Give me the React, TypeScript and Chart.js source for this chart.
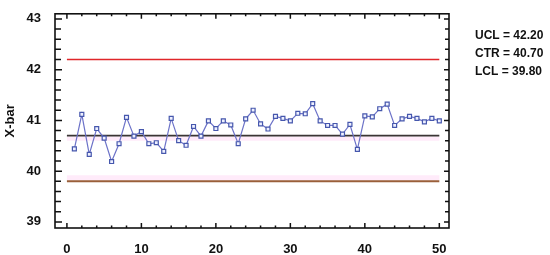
import React, { useEffect, useRef } from "react";
import { Chart, registerables } from "chart.js";

Chart.register(...registerables);

const samples: number[] = [
  1, 2, 3, 4, 5, 6, 7, 8, 9, 10, 11, 12, 13, 14, 15, 16, 17, 18, 19, 20, 21, 22, 23, 24, 25,
  26, 27, 28, 29, 30, 31, 32, 33, 34, 35, 36, 37, 38, 39, 40, 41, 42, 43, 44, 45, 46, 47, 48, 49, 50,
];
const xbar: number[] = [
  40.44, 41.12, 40.33, 40.84, 40.65, 40.19, 40.54, 41.06, 40.69, 40.78,
  40.54, 40.56, 40.39, 41.04, 40.6, 40.51, 40.88, 40.69, 40.99, 40.84,
  40.99, 40.91, 40.54, 41.03, 41.2, 40.93, 40.83, 41.08, 41.04, 40.99,
  41.14, 41.13, 41.33, 40.99, 40.9, 40.9, 40.73, 40.92, 40.43, 41.09,
  41.07, 41.23, 41.32, 40.9, 41.03, 41.08, 41.04, 40.97, 41.04, 40.99,
];
const limitNames: string[] = ["UCL", "CTR", "LCL"];
const limitValues: number[] = [42.2, 40.7, 39.8];
const limitSpan: number[] = [0, 50];
const xTickValues: number[] = [0, 10, 20, 30, 40, 50];
const yTickValues: number[] = [39, 40, 41, 42, 43];

const X_MIN = -1.6;
const X_MAX = 51.3;
const Y_MIN = 38.88;
const Y_MAX = 43.1;

const FONT = "'Liberation Sans', Arial, sans-serif";

const framePlugin = {
  id: "frame",
  afterDraw(chart: any) {
    const { ctx, chartArea, scales } = chart;
    const xs = scales.x;
    const ys = scales.y;
    const { left, right, top, bottom } = chartArea;
    ctx.save();
    ctx.strokeStyle = "#111";
    ctx.lineWidth = 1.5;
    for (let v = 39; v <= 43.001; v += 0.2) {
      const y = ys.getPixelForValue(v);
      const major = Math.abs(v - Math.round(v)) < 0.01;
      const lenL = major ? 7 : 6;
      const lenR = major ? 5 : 4;
      ctx.beginPath();
      ctx.moveTo(left, y);
      ctx.lineTo(left + lenL, y);
      ctx.moveTo(right, y);
      ctx.lineTo(right - lenR, y);
      ctx.stroke();
    }
    for (let v = 0; v <= 50; v += 2) {
      const x = xs.getPixelForValue(v);
      const major = v % 10 === 0;
      const len = major ? 5 : 2.5;
      ctx.beginPath();
      ctx.moveTo(x, top);
      ctx.lineTo(x, top + len);
      ctx.moveTo(x, bottom);
      ctx.lineTo(x, bottom - len);
      ctx.stroke();
    }
    ctx.lineWidth = 1.6;
    ctx.strokeRect(left, top, right - left, bottom - top);
    ctx.fillStyle = "#111";
    ctx.font = `bold 12px ${FONT}`;
    ctx.textAlign = "left";
    ctx.textBaseline = "middle";
    limitNames.forEach((n, i) => {
      ctx.fillText(`${n} = ${limitValues[i].toFixed(2)}`, 475, 36 + i * 18);
    });
    ctx.restore();
  },
};

export default function App() {
  const ref = useRef<HTMLCanvasElement | null>(null);
  useEffect(() => {
    document.body.style.margin = "0";
    if (!ref.current) return;
    const limitColors = ["#e0262a", "#3a3434", "#9a5f3a"];
    const limitWidths = [1.6, 1.6, 2];
    const limitSets = limitValues.map((v, i) => ({
      label: limitNames[i],
      data: limitSpan.map((x) => ({ x, y: v })),
      borderColor: limitColors[i],
      borderWidth: limitWidths[i],
      pointRadius: 0,
      order: 2,
    }));
    const bandSets = [
      { y: limitValues[2] + 0.07, w: 5 },
      { y: limitValues[1] - 0.06, w: 4 },
    ].map((b, i) => ({
      label: "band" + i,
      data: limitSpan.map((x) => ({ x, y: b.y })),
      borderColor: "rgba(255,215,245,0.5)",
      borderWidth: b.w,
      pointRadius: 0,
      order: 3,
    }));
    const chart = new Chart(ref.current, {
      type: "line",
      data: {
        datasets: [
          {
            label: "X-bar",
            data: samples.map((s, i) => ({ x: s, y: xbar[i] })),
            borderColor: "#6c72c8",
            borderWidth: 1.2,
            pointStyle: "rect",
            pointRadius: 2.8,
            pointBorderWidth: 1.2,
            pointBorderColor: "#4657ad",
            pointBackgroundColor: "#eef0ff",
            order: 1,
          },
          ...limitSets,
          ...bandSets,
        ] as any,
      },
      options: {
        responsive: false,
        animation: false,
        layout: { padding: { left: 0, top: 13, right: 101, bottom: 0 } },
        plugins: { legend: { display: false }, tooltip: { enabled: false } },
        scales: {
          x: {
            type: "linear",
            min: X_MIN,
            max: X_MAX,
            grid: { display: false },
            border: { display: false },
            afterBuildTicks: (s: any) => {
              s.ticks = xTickValues.map((v) => ({ value: v }));
            },
            afterFit: (s: any) => {
              s.height = 27;
            },
            ticks: {
              padding: 6,
              color: "#111",
              font: { family: FONT, size: 13, weight: "bold" },
              callback: (v: any) => String(v),
            },
          },
          y: {
            type: "linear",
            min: Y_MIN,
            max: Y_MAX,
            grid: { display: false },
            border: { display: false },
            afterBuildTicks: (s: any) => {
              s.ticks = yTickValues.map((v) => ({ value: v }));
            },
            afterFit: (s: any) => {
              s.width = 55;
            },
            title: {
              display: true,
              text: "X-bar",
              color: "#111",
              padding: { top: 3, bottom: 0 },
              font: { family: FONT, size: 13, weight: "bold" },
            },
            ticks: {
              padding: 6,
              color: "#111",
              font: { family: FONT, size: 13, weight: "bold" },
              callback: (v: any) => String(v),
            },
          },
        },
      } as any,
      plugins: [framePlugin],
    });
    return () => chart.destroy();
  }, []);
  return (
    <div style={{ position: "absolute", left: 0, top: 0, width: 550, height: 255, background: "#fff" }}>
      <canvas ref={ref} width={550} height={255} style={{ width: 550, height: 255 }} />
    </div>
  );
}
